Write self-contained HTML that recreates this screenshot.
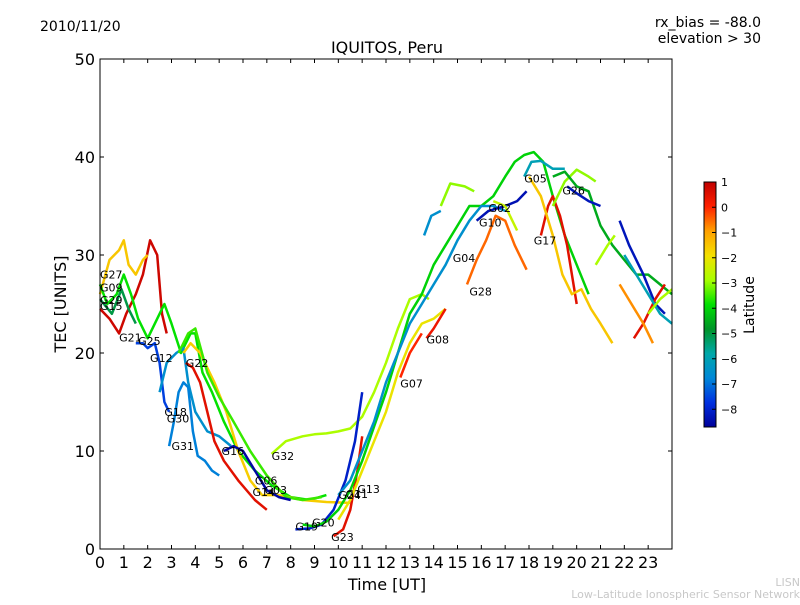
<!DOCTYPE html>
<html><head><meta charset="utf-8"><style>
body{margin:0;background:#fff;}
svg text{font-family:"DejaVu Sans","Liberation Sans",sans-serif;}
</style></head><body>
<svg id="chart" width="800" height="600" xmlns="http://www.w3.org/2000/svg">
<rect width="800" height="600" fill="#fff"/>
<text x="40" y="31" font-size="14">2010/11/20</text>
<text x="761" y="27" font-size="14" text-anchor="end">rx_bias = -88.0</text>
<text x="761" y="43" font-size="14" text-anchor="end">elevation &gt; 30</text>
<text x="387" y="53" font-size="16" text-anchor="middle">IQUITOS, Peru</text>
<g id="tracks"></g>
<g id="labels"></g>
<rect x="100" y="59" width="572" height="490" fill="none" stroke="#000" stroke-width="1"/>
<g id="axes"></g>
<text x="387" y="590" font-size="16" text-anchor="middle">Time [UT]</text>
<text x="66" y="304" font-size="16" text-anchor="middle" transform="rotate(-90 66 304)">TEC [UNITS]</text>
<defs><linearGradient id="cmap" x1="0" y1="1" x2="0" y2="0">
<stop offset="0" stop-color="#00009a"/><stop offset="0.1" stop-color="#0030e0"/><stop offset="0.2" stop-color="#0088d8"/><stop offset="0.3" stop-color="#00a8a8"/><stop offset="0.4" stop-color="#009428"/><stop offset="0.5" stop-color="#00e000"/><stop offset="0.6" stop-color="#a8ff00"/><stop offset="0.7" stop-color="#f4e000"/><stop offset="0.8" stop-color="#ffa000"/><stop offset="0.9" stop-color="#ff2000"/><stop offset="1" stop-color="#c00000"/></linearGradient></defs>
<rect x="704" y="182" width="12" height="245" fill="url(#cmap)" stroke="#000" stroke-width="1"/>
<g id="cbticks"></g>
<text x="754" y="305" font-size="14" text-anchor="middle" transform="rotate(-90 754 305)">Latitude</text>
<text x="800" y="586" font-size="11" fill="#c8c8c8" text-anchor="end">LISN</text>
<text x="800" y="598" font-size="11" fill="#c8c8c8" text-anchor="end">Low-Latitude Ionospheric Sensor Network</text>
</svg>
<script>
const xTicks=[0,1,2,3,4,5,6,7,8,9,10,11,12,13,14,15,16,17,18,19,20,21,22,23];
const yTicks=[0,10,20,30,40,50];
const cbTicks=[1,0,-1,-2,-3,-4,-5,-6,-7,-8];
const trackLat=[0.8,-1.5,-3.8,-5,-7.5,-6.5,0.5,-1.6,-3.5,-2.8,-6.8,-8.5,-8,0.5,-4,-2,0,0.3,-6.5,-8.3,-0.5,-2.5,-6.5,-3,-6,0.5,-1.5,-3,-4.5,-8.2,-8.2,0.5,-0.8,-6,-2.8,-2.8];
const trackPts=[
[[0,24.5],[0.4,23.5],[0.8,22],[1.1,24],[1.5,26],[1.8,28],[2.1,31.5],[2.4,30],[2.6,24],[2.8,22]],
[[0,26],[0.4,29.5],[0.8,30.5],[1,31.5],[1.2,29],[1.5,28],[1.8,29.5],[2,30]],
[[0,27],[0.3,25],[0.7,26],[1,28],[1.3,26],[1.6,23.5],[2,21.5],[2.5,24],[2.7,25],[3,23],[3.4,20],[3.8,22],[4,22],[4.3,18],[4.7,16],[5.2,13],[5.8,10],[6.5,8],[7.2,6.5],[8,5.3],[8.8,5],[9.5,5.5]],
[[0,25.5],[0.5,24],[0.9,26.5],[1.2,24.5],[1.5,23]],
[[1.5,21],[1.8,21],[2,20.5],[2.3,21],[2.5,19],[2.7,15],[2.9,14]],
[[2.5,16],[2.8,19],[3.2,20],[3.5,20.5],[3.7,17],[4,14],[4.5,12],[5,11.5],[5.5,10.5]],
[[3.6,19],[3.9,18.5],[4.2,17],[4.5,14],[4.8,11],[5.2,9],[5.8,7],[6.5,5],[7,4]],
[[3.5,20],[3.8,21],[4.2,20],[4.8,17],[5.3,14],[5.8,10],[6.3,7],[6.8,5.5],[7.5,5.5],[8.5,5],[9.5,4.8],[10.5,4.7]],
[[3.3,20],[3.7,22],[4,22.5],[4.5,18],[5,15.5],[5.6,13],[6.3,10],[7,7.5],[7.8,5.3],[8.5,5],[9.3,5.3]],
[[7.2,9.7],[7.8,11],[8.5,11.5],[9,11.7],[9.5,11.8],[10,12],[10.5,12.3],[11,13.5],[11.5,16],[12,19],[12.5,22.5],[13,25.5],[13.5,26],[13.8,25.5]],
[[2.9,10.5],[3.1,13],[3.3,16],[3.5,17],[3.7,16.5],[3.9,12],[4.1,9.5],[4.4,9],[4.7,8],[5,7.5]],
[[5.2,10],[5.6,10.5],[6,10],[6.5,8],[7,6],[7.5,5.3],[8,5]],
[[8.2,2],[8.8,2.1],[9.3,2.5],[9.8,4],[10.3,7],[10.7,11],[11,16]],
[[9.8,1.3],[10.2,2],[10.5,4],[10.8,8],[11,11.5]],
[[8.5,2.5],[9,2.3],[9.5,2.8],[10,4],[10.5,6],[11,9],[11.5,12.5],[12,16],[12.5,20],[13,24],[13.5,26],[14,29],[14.5,31],[15,33],[15.5,35],[16,35],[16.5,36],[17,38],[17.4,39.5],[17.8,40.2],[18.2,40.5],[18.6,39.5],[19,36],[19.5,32],[20,29],[20.5,26]],
[[10,3],[10.5,5],[11,8],[11.5,11],[12,14],[12.5,18],[13,21],[13.5,23],[14,23.5],[14.5,24.5]],
[[12.6,17.5],[13,20],[13.5,22]],
[[13.7,21.5],[14,22.5],[14.5,24.5]],
[[10,5.5],[10.5,7],[11,10],[11.5,13],[12,17],[12.5,20],[13,23],[13.5,25],[14,27],[14.5,29],[15,31.5],[15.5,33.5],[16,35],[16.5,35],[17,34.5]],
[[15.8,33.5],[16.3,34.5],[17,35],[17.5,35.5],[17.9,36.5]],
[[15.4,27],[15.8,29.5],[16.2,31.5],[16.6,34],[17,33.5],[17.4,31],[17.9,28.5]],
[[16.5,35.5],[17,35],[17.5,32.5]],
[[13.6,32],[13.9,34],[14.3,34.5]],
[[14.3,35],[14.7,37.3],[15.3,37],[15.7,36.5]],
[[17.8,38],[18.1,39.5],[18.5,39.6],[19,38.8],[19.5,38.8]],
[[18.5,32],[18.8,35],[19,36],[19.3,34],[19.6,31],[19.8,28],[20,25]],
[[18,38],[18.5,36],[19,32],[19.4,28],[19.8,26],[20.2,26.5],[20.6,24.5],[21,23],[21.5,21]],
[[19,35],[19.5,37.5],[20,38.7],[20.5,38],[20.8,37.5]],
[[19,38],[19.5,38.5],[20,37],[20.5,36.5],[21,33],[21.5,31],[22,29.5],[22.5,28],[23,28],[23.5,27],[24,26]],
[[19.6,37],[20,36.3],[20.5,35.5],[21,35]],
[[21.8,33.5],[22.2,31],[22.8,28],[23.3,25],[23.7,24]],
[[22.4,21.5],[22.8,23],[23.3,25.5],[23.7,27]],
[[21.8,27],[22.3,25],[22.8,23],[23.2,21]],
[[22,30],[22.5,28],[23,26],[23.5,24],[24,23]],
[[20.8,29],[21.3,31],[21.6,32]],
[[23,24],[23.5,25.5],[24,26.5]]
];
const labelText=["G27","G09","G29","G15","G21","G25","G12","G22","G18","G30","G31","G16","G32","G06","G14","G03","G19","G20","G23","G24","G11","G13","G07","G08","G04","G28","G02","G10","G05","G17","G26"];
const labelPos=[[0,28],[0,26.7],[0,25.4],[0,24.8],[0.8,21.6],[1.6,21.2],[2.1,19.5],[3.6,19],[2.7,14],[2.8,13.3],[3,10.5],[5.1,10],[7.2,9.5],[6.5,7],[6.4,5.8],[6.9,6],[8.2,2.3],[8.9,2.7],[9.7,1.2],[10,5.5],[10.3,5.6],[10.8,6.1],[12.6,16.9],[13.7,21.4],[14.8,29.7],[15.5,26.3],[16.3,34.8],[15.9,33.3],[17.8,37.8],[18.2,31.5],[19.4,36.6]];
const X=h=>100+h*572/24, Y=v=>549-v*9.8;
const CB=l=>182+(1-l)*25.25;
const stops=[[0,[0,0,154]],[0.1,[0,48,224]],[0.2,[0,136,216]],[0.3,[0,168,168]],[0.4,[0,148,40]],[0.5,[0,224,0]],[0.6,[168,255,0]],[0.7,[244,224,0]],[0.8,[255,160,0]],[0.9,[255,32,0]],[1,[192,0,0]]];
function col(l){let t=(l+8.64)/9.64;t=Math.max(0,Math.min(1,t));for(let i=1;i<stops.length;i++){if(t<=stops[i][0]){const a=stops[i-1],b=stops[i],f=(t-a[0])/(b[0]-a[0]);return 'rgb('+a[1].map((c,k)=>Math.round(c+(b[1][k]-c)*f)).join(',')+')';}}return 'rgb(192,0,0)';}
const NS='http://www.w3.org/2000/svg';
function mk(t,p){const e=document.createElementNS(NS,t);for(const k in p)e.setAttribute(k,p[k]);return e;}
const tg=document.getElementById('tracks');
trackPts.forEach((pts,i)=>{const e=mk('polyline',{points:pts.map(p=>X(p[0]).toFixed(1)+','+Y(p[1]).toFixed(1)).join(' '),fill:'none',stroke:col(trackLat[i]),'stroke-width':2.5,'stroke-linejoin':'round'});


tg.appendChild(e);});
const lg=document.getElementById('labels');
labelText.forEach((s,i)=>{const e=mk('text',{x:X(labelPos[i][0]),y:Y(labelPos[i][1])+4,'font-size':11});e.textContent=s;


lg.appendChild(e);});
const ax=document.getElementById('axes');
xTicks.forEach(h=>{ax.appendChild(mk('line',{x1:X(h),x2:X(h),y1:549,y2:545,stroke:'#000'}));ax.appendChild(mk('line',{x1:X(h),x2:X(h),y1:59,y2:63,stroke:'#000'}));
const t=mk('text',{x:X(h),y:568,'font-size':16,'text-anchor':'middle'});t.textContent=h;


ax.appendChild(t);});
yTicks.forEach(v=>{ax.appendChild(mk('line',{x1:100,x2:104,y1:Y(v),y2:Y(v),stroke:'#000'}));ax.appendChild(mk('line',{x1:668,x2:672,y1:Y(v),y2:Y(v),stroke:'#000'}));
const t=mk('text',{x:95,y:Y(v)+6,'font-size':16,'text-anchor':'end'});t.textContent=v;


ax.appendChild(t);});
const cg=document.getElementById('cbticks');
cbTicks.forEach(l=>{cg.appendChild(mk('line',{x1:712,x2:716,y1:CB(l),y2:CB(l),stroke:'#000'}));
const t=mk('text',{x:721,y:CB(l)+4,'font-size':11});t.textContent=l<0?'\u2212'+(-l):String(l);


cg.appendChild(t);});
</script>
</body></html>
